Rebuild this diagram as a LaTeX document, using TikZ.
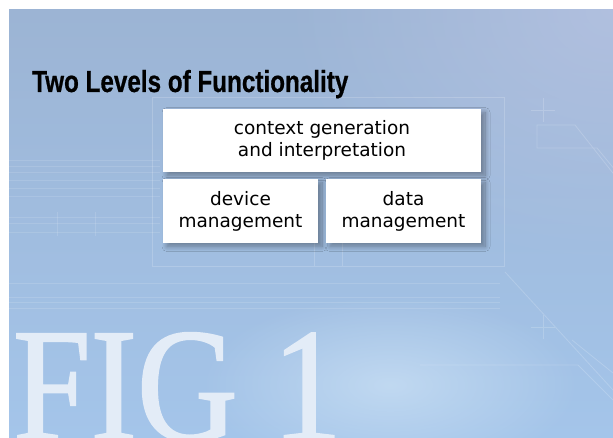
\documentclass[tikz,border=0pt]{standalone}
\usepackage{fontspec}
\usetikzlibrary{shadows.blur,fadings}

\newfontfamily\headfont[FakeStretch=0.795,FakeBold=0.6]{Liberation Sans}
\newfontfamily\unitfont{DejaVu Sans}
\newfontfamily\figfont[FakeStretch=0.86,FakeBold=1.2]{Liberation Serif}

\definecolor{skytop}{HTML}{9CB4D4}
\definecolor{skybot}{HTML}{A4C5EA}
\definecolor{skylav}{HTML}{B6C3E2}
\definecolor{haze}{HTML}{CDE2F5}
\definecolor{figwhite}{HTML}{E3ECF7}

\tikzfading[name=softglow, inner color=transparent!0, outer color=transparent!100]

\tikzset{
  unit/.style={fill=white, inner sep=0pt, align=center,
    font=\unitfont\fontsize{18.5}{22}\selectfont,
    blur shadow={shadow xshift=4pt, shadow yshift=-3.5pt,
      shadow blur radius=5pt, shadow blur steps=12, shadow opacity=35}},
  trace/.style={white, opacity=0.18, line width=0.8pt},
}

\begin{document}
\begin{tikzpicture}[x=1pt,y=-1pt]
    \useasboundingbox (0,0) rectangle (613,438);
    \begin{scope}
        \clip (9,10) rectangle (613,438);
        % sky backdrop
        \shade[top color=skytop, bottom color=skybot] (9,10) rectangle (613,438);
        \fill[skylav, opacity=0.8, path fading=softglow] (613,10) ellipse (330 and 260);
        \fill[haze, opacity=0.7, path fading=softglow] (390,385) ellipse (190 and 90);
        % faint circuit traces
        \draw[trace] (152,97) rectangle (504,266);
        \draw[trace] (314,243) -- (314,266);
        \draw[trace] (342,243) -- (342,266);
        \draw[trace] (620,182) -- (575,125) -- (537,125) -- (537,148)
            -- (597,148) -- (620,176);
        \draw[trace] (531,110) -- (555,110) (543,98) -- (543,122);
        \draw[trace] (531,327) -- (555,327) (543,315) -- (543,339);
        \draw[trace] (505,272) -- (613,390);
        \draw[trace] (572,340) -- (613,373);
        \draw[trace] (420,365) -- (578,365) -- (613,400);
        % horizontal streaks
        \foreach \y in {160,166,172,180,188,196,217,223,232} {
            \draw[white, opacity=0.12] (9,\y) -- (160,\y);
        }
        \foreach \y in {283,297,302,308} {
            \draw[white, opacity=0.13] (9,\y) -- (500,\y);
        }
        \draw[white, opacity=0.13] (57,212) -- (57,236) (95,212) -- (95,236);
        % big figure label
        \node[figwhite, anchor=base west, inner sep=0pt,
            font=\figfont\fontsize{162}{162}\selectfont] (fig) at (13,440) {FIG 1};
    \end{scope}
    % heading
    \node[anchor=base west, inner sep=0pt,
        font=\headfont\bfseries\fontsize{30.5}{30}\selectfont] (title) at (32,92)
        {Two Levels of Functionality};
    % functional blocks
    \node[unit, minimum width=318pt, minimum height=63pt] (ctx) at (322,140.5)
        {context generation\\and interpretation};
    \node[unit, minimum width=155pt, minimum height=64pt] (dev) at (240.5,211)
        {device\\management};
    \node[unit, minimum width=155pt, minimum height=64pt] (dat) at (403.5,211)
        {data\\management};
\end{tikzpicture}
\end{document}
